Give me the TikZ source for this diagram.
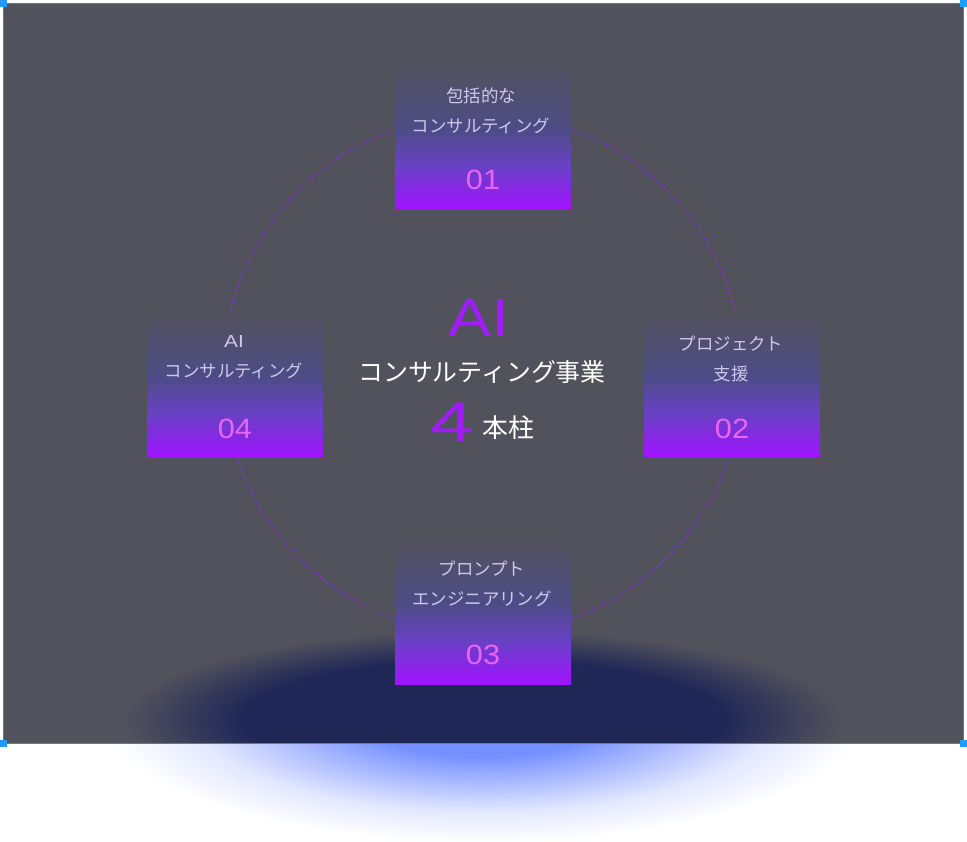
\documentclass[tikz,border=0pt]{standalone}
\usepackage{fontspec}
\newfontfamily\jpfont{Noto Sans CJK JP}
\IfFontExistsTF{FiraSans-ExtraLight.otf}
  {\newfontfamily\widefont{FiraSans-ExtraLight.otf}[FakeStretch=1.3]
   \newfontfamily\fourfont{FiraSans-ExtraLight.otf}[FakeStretch=1.5]
   \newfontfamily\numfont{FiraSans-ExtraLight.otf}[FakeStretch=1.2]}
  {\newfontfamily\widefont{Liberation Sans}[FakeStretch=1.2]
   \newfontfamily\fourfont{Liberation Sans}[FakeStretch=1.4]
   \newfontfamily\numfont{Liberation Sans}[FakeStretch=1.1]}

\definecolor{bggray}{HTML}{52525C}
\definecolor{rimgray}{HTML}{74747E}
\definecolor{handle}{HTML}{1E9BFF}
\definecolor{ringviolet}{HTML}{8E2CE8}
\definecolor{glownavy}{HTML}{1F2757}
\definecolor{glowblue}{HTML}{7490FF}
\definecolor{glowmid}{HTML}{A8B8FF}
\definecolor{glowlight}{HTML}{E2E8FF}
\definecolor{ptop}{HTML}{52525E}
\definecolor{pslate}{HTML}{4D4C86}
\definecolor{pmid}{HTML}{6841C4}
\definecolor{pviolet}{HTML}{A112FF}
\definecolor{titlelav}{HTML}{CFC8EE}
\definecolor{numpink}{HTML}{E866F2}
\definecolor{aiviolet}{HTML}{A01EF5}

\pgfdeclareverticalshading{pillargrad}{100bp}{color(0bp)=(pviolet); color(25bp)=(pviolet); color(40bp)=(pmid); color(53bp)=(pslate); color(75bp)=(ptop); color(100bp)=(ptop)}
\pgfdeclareradialshading{navyglow}{\pgfpoint{0bp}{0bp}}{color(0bp)=(glownavy); color(15bp)=(glownavy); color(22.5bp)=(bggray); color(50bp)=(bggray)}
\pgfdeclareradialshading{blueglow}{\pgfpoint{0bp}{0bp}}{color(0bp)=(glowblue); color(8bp)=(glowblue); color(13bp)=(glowmid); color(19bp)=(glowlight); color(25bp)=(white); color(50bp)=(white)}

\begin{document}
\begin{tikzpicture}[x=1bp, y=-1bp,
	pillar/.style = {minimum width=176bp, minimum height=144bp, inner sep=0pt, shade, shading=pillargrad},
	title/.style = {font=\jpfont\fontsize{17.5}{30}\selectfont, text=titlelav, align=center},
	num/.style = {font=\numfont\fontsize{28}{28}\selectfont, text=numpink},
	ring/.style = {draw=ringviolet, line width=1.5bp, dash pattern=on 1.5bp off 2.8bp},
	handlebox/.style = {fill=handle, minimum size=7bp, inner sep=0pt}]
	\useasboundingbox (0,0) rectangle (967,842);
	
	% glow under the panel
	\shade[shading=blueglow] (483,716) ellipse [x radius=380bp, y radius=126bp];
	\fill[bggray] (3,3) rectangle (963,743);
	\begin{scope}
		\clip (3,3) rectangle (963,743);
		\shade[shading=navyglow] (483,720) ellipse [x radius=400bp, y radius=100bp];
	\end{scope}
	\draw[rimgray, line width=1bp] (3,3) rectangle (963,743);
	
	\coordinate (hub) at (483,374);
	\draw[ring] (hub) circle [radius=260bp];
	
	\node[pillar] (p1) at (483,137) {};
	\node[pillar] (p2) at (732,385) {};
	\node[pillar] (p3) at (483,612) {};
	\node[pillar] (p4) at (235,385) {};
	
	\node[title] (t1) at (481,111) {包括的な\\コンサルティング};
	\node[title] (t2) at (731,359) {プロジェクト\\支援};
	\node[title] (t3) at (482,584) {プロンプト\\エンジニアリング};
	\node[title] (t4) at (234,357) {{\widefont AI}\\コンサルティング};
	
	\node[num] (n1) at (483,180) {01};
	\node[num] (n2) at (732,429) {02};
	\node[num] (n3) at (483,655) {03};
	\node[num] (n4) at (235,429) {04};
	
	\node[font=\widefont\fontsize{54}{54}\selectfont, text=aiviolet] (ai) at (479,318) {AI};
	\node[font=\jpfont\fontsize{25}{25}\selectfont, text=white] (biz) at (482,372) {コンサルティング事業};
	\node[font=\fourfont\fontsize{56}{56}\selectfont, text=aiviolet] (four) at (452,422) {4};
	\node[font=\jpfont\fontsize{26}{26}\selectfont, text=white] (hon) at (508,428) {本柱};
	
	\foreach \hx/\hy in {3/3, 963/3, 3/743, 963/743}
		\node[handlebox] at (\hx,\hy) {};
\end{tikzpicture}
\end{document}
